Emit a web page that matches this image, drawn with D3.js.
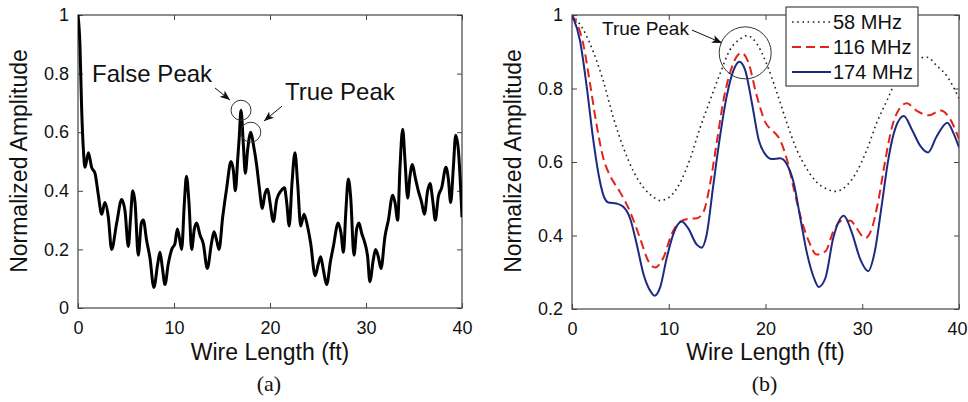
<!DOCTYPE html>
<html>
<head>
<meta charset="utf-8">
<script src="https://cdn.jsdelivr.net/npm/d3@7"></script>
<style>
  body { margin: 0; background: #fff; }
  svg { display: block; font-family: "Liberation Sans", Arial, sans-serif; }
</style>
</head>
<body>
<div id="chart"></div>
<script>

// ---- data ----
const xTicks = [0, 10, 20, 30, 40]
const yTicksA = [0, 0.2, 0.4, 0.6, 0.8, 1]
const yTicksB = [0.2, 0.4, 0.6, 0.8, 1]

// (a) single trace
const lenA = [0, 0.2, 0.38, 0.56, 0.73, 1.08, 1.42, 1.77, 2.1, 2.47, 2.8, 3.16, 3.5, 4.03, 4.55, 4.9, 5.24, 5.48, 5.7, 5.94,
  6.28, 6.6, 6.8, 7.15, 7.5, 7.9, 8.3, 8.54, 8.78, 9.06, 9.4, 9.76, 10.1, 10.35, 10.56, 10.8, 11.08, 11.3, 11.56, 11.84,
  12.12, 12.36, 12.7, 13.05, 13.47, 13.9, 14.17, 14.45, 14.69, 15.07, 15.49, 15.94, 16.18, 16.39, 16.63, 16.8, 16.98,
  17.22, 17.43, 17.67, 18.0, 18.26, 18.6, 18.89, 19.2, 19.48, 19.76, 20.0, 20.35, 20.7, 21.15, 21.5, 21.74, 22.0, 22.29,
  22.6, 22.88, 23.2, 23.54, 23.9, 24.24, 24.7, 25.03, 25.28, 25.56, 25.9, 26.3, 26.6, 27.1, 27.4, 27.65, 27.9, 28.16,
  28.4, 28.75, 29.03, 29.27, 29.55, 29.9, 30.17, 30.4, 30.76, 31.0, 31.28, 31.56, 31.98, 32.33, 32.78, 33.02, 33.3,
  33.54, 33.82, 34.06, 34.34, 34.58, 34.83, 35.1, 35.45, 35.8, 36.08, 36.42, 36.67, 36.94, 37.22, 37.53, 37.88, 38.33,
  38.58, 38.82, 39.1, 39.34, 39.62, 40]
const ampA = [1.0, 0.9, 0.68, 0.54, 0.48, 0.53, 0.48, 0.46, 0.39, 0.32, 0.36, 0.31, 0.2, 0.29, 0.37, 0.33, 0.21, 0.31, 0.4, 0.36,
  0.18, 0.29, 0.3, 0.23, 0.17, 0.07, 0.15, 0.19, 0.14, 0.08, 0.15, 0.2, 0.22, 0.27, 0.24, 0.2, 0.36, 0.45, 0.36, 0.2,
  0.27, 0.29, 0.25, 0.22, 0.135, 0.22, 0.26, 0.23, 0.2, 0.31, 0.41, 0.5, 0.47, 0.4, 0.505, 0.585, 0.675,
  0.56, 0.46, 0.54, 0.6, 0.56, 0.49, 0.41, 0.34, 0.39, 0.405, 0.36, 0.295, 0.37, 0.4, 0.41, 0.36, 0.28, 0.425,
  0.53, 0.425, 0.28, 0.32, 0.28, 0.22, 0.11, 0.15, 0.175, 0.13, 0.08, 0.16, 0.21, 0.29, 0.255, 0.19, 0.33, 0.44,
  0.38, 0.18, 0.27, 0.29, 0.255, 0.22, 0.175, 0.09, 0.165, 0.2, 0.175, 0.135, 0.245, 0.3, 0.385, 0.36, 0.3,
  0.48, 0.61, 0.505, 0.375, 0.45, 0.49, 0.45, 0.4, 0.36, 0.32, 0.4, 0.425, 0.37, 0.3, 0.38, 0.41, 0.48,
  0.44, 0.36, 0.48, 0.59, 0.54, 0.31]

// (b) three frequencies
const len58 = [0, 1.17, 2.2, 3.24, 4.28, 5.3, 6.34, 7.4, 8.4, 9.1, 10.1, 11.2, 12.2, 13.2, 14.3, 15.3, 16.3, 17.4, 18.1, 19.1,
  20.1, 21.2, 22.2, 23.2, 24.3, 25.3, 26.3, 27.2, 28.4, 29.4, 30.5, 31.5, 32.6, 33.6, 34.6, 35.7, 36.7, 37.7, 38.8, 40]
const amp58 = [1.0, 0.96, 0.9, 0.82, 0.72, 0.64, 0.575, 0.53, 0.505, 0.495, 0.505, 0.545, 0.608, 0.69, 0.77, 0.84, 0.904, 0.935, 0.944, 0.922,
  0.868, 0.787, 0.707, 0.635, 0.58, 0.545, 0.527, 0.52, 0.536, 0.572, 0.635, 0.707, 0.77, 0.828, 0.865, 0.882, 0.885, 0.862, 0.832, 0.773]

const len116 = [0, 1.17, 1.86, 2.55, 3.24, 3.93, 4.97, 6.0, 7.03, 7.9, 8.6, 9.45, 10.3, 11.2, 12.0, 12.9, 13.6, 14.3, 15.0, 15.6,
  16.3, 17.0, 17.55, 18.2, 19.1, 20.0, 20.8, 21.5, 22.2, 22.9, 23.6, 24.45, 25.3, 26.2, 27.0, 27.9, 28.8, 29.4, 30.3, 31.0,
  31.7, 32.4, 33.1, 33.9, 34.6, 35.6, 36.9, 38.1, 39.1, 40]
const amp116 = [1.0, 0.92, 0.814, 0.7, 0.61, 0.563, 0.518, 0.465, 0.393, 0.33, 0.313, 0.34, 0.404, 0.438, 0.445, 0.447, 0.465, 0.545, 0.66, 0.76,
  0.84, 0.886, 0.897, 0.873, 0.78, 0.707, 0.684, 0.66, 0.608, 0.53, 0.454, 0.386, 0.348, 0.357, 0.41, 0.44, 0.44, 0.42, 0.393, 0.42,
  0.5, 0.608, 0.698, 0.747, 0.76, 0.74, 0.727, 0.74, 0.716, 0.662]

const len174 = [0, 0.83, 1.52, 2.2, 2.72, 3.24, 3.76, 4.6, 5.3, 6.0, 6.7, 7.4, 8.07, 8.52, 9.1, 9.8, 10.5, 11.34, 12.0, 12.9,
  13.4, 13.9, 14.6, 15.3, 16.0, 16.7, 17.3, 17.9, 18.6, 19.3, 20.0, 20.65, 21.5, 22.2, 22.9, 23.6, 24.3, 25.0, 25.5, 26.2,
  27.0, 28.1, 28.9, 29.8, 30.6, 31.3, 32.0, 32.7, 33.4, 34.3, 35.1, 36.0, 36.8, 37.7, 38.8, 39.4, 40]
const amp174 = [1.0, 0.93, 0.805, 0.66, 0.57, 0.51, 0.49, 0.487, 0.478, 0.447, 0.375, 0.294, 0.25, 0.236, 0.258, 0.34, 0.406, 0.438, 0.42, 0.375,
  0.367, 0.4, 0.536, 0.67, 0.78, 0.85, 0.873, 0.85, 0.76, 0.66, 0.62, 0.608, 0.61, 0.594, 0.545, 0.447, 0.35, 0.285, 0.26, 0.285,
  0.393, 0.454, 0.41, 0.335, 0.303, 0.357, 0.48, 0.608, 0.69, 0.725, 0.69, 0.644, 0.626, 0.67, 0.707, 0.68, 0.64]

const seriesNames = ["58 MHz", "116 MHz", "174 MHz"]

// ---- svg ----
const W = 968, H = 402
const svg = d3.select("#chart").append("svg")
    .attr("width", W)
    .attr("height", H)

svg.append("defs").append("marker")
    .attr("id", "arrow")
    .attr("markerUnits", "userSpaceOnUse")
    .attr("markerWidth", 11)
    .attr("markerHeight", 8)
    .attr("refX", 10)
    .attr("refY", 4)
    .attr("orient", "auto")
    .append("path")
    .attr("d", "M0,0L10,4L0,8L2.5,4Z")
    .attr("fill", "#111")

const zip = (xs, ys) => xs.map((x, i) => [x, ys[i]])

function panel(opts) {
    const {left, right, top, bottom, yDomain, yTicks, id} = opts

    const x = d3.scaleLinear().domain([0, 40]).range([left, right])
    const y = d3.scaleLinear().domain(yDomain).range([bottom, top])

    const g = svg.append("g")

    g.append("clipPath").attr("id", "clip-" + id)
        .append("rect")
        .attr("x", left).attr("y", top)
        .attr("width", right - left).attr("height", bottom - top)

    // inward ticks on all four sides, labels only bottom/left
    const styleAxis = sel => {
        sel.select(".domain").remove()
        sel.selectAll(".tick line").attr("stroke", "#444")
        sel.selectAll(".tick text")
            .attr("fill", "#111")
            .style("font-size", "18px")
            .style("font-family", "'Liberation Sans', Arial, sans-serif")
    }

    const xAxis = g.append("g")
        .attr("transform", `translate(0,${bottom})`)
        .call(d3.axisBottom(x).tickValues(xTicks).tickSize(-5).tickPadding(13).tickFormat(d3.format("d")))
        .call(styleAxis)

    // keep the last label inside the page edge
    if (right + 10 > W) {
        xAxis.selectAll(".tick text")
            .filter(d => d === 40)
            .attr("text-anchor", "end")
            .attr("x", W - right - 1)
    }

    g.append("g")
        .attr("transform", `translate(0,${top})`)
        .call(d3.axisTop(x).tickValues(xTicks).tickSize(-5).tickFormat(""))
        .call(styleAxis)

    g.append("g")
        .attr("transform", `translate(${left},0)`)
        .call(d3.axisLeft(y).tickValues(yTicks).tickSize(-5).tickPadding(9).tickFormat(d => d3.format("")(+d.toFixed(1))))
        .call(styleAxis)

    g.append("g")
        .attr("transform", `translate(${right},0)`)
        .call(d3.axisRight(y).tickValues(yTicks).tickSize(-5).tickFormat(""))
        .call(styleAxis)

    g.append("rect")
        .attr("x", left).attr("y", top)
        .attr("width", right - left).attr("height", bottom - top)
        .attr("fill", "none")
        .attr("stroke", "#444")
        .attr("stroke-width", 1.2)

    // axis titles
    const cx = (left + right) / 2
    g.append("text")
        .attr("x", cx).attr("y", 360)
        .attr("text-anchor", "middle")
        .style("font-size", "23px")
        .attr("fill", "#111")
        .text("Wire Length (ft)")

    g.append("text")
        .attr("transform", `translate(${left - 51},161) rotate(-90)`)
        .attr("text-anchor", "middle")
        .style("font-size", "23px")
        .attr("fill", "#111")
        .text("Normalized Amplitude")

    g.append("text")
        .attr("x", cx - 1).attr("y", 391)
        .attr("text-anchor", "middle")
        .style("font-size", "22px")
        .style("font-family", "'Liberation Serif', 'Times New Roman', serif")
        .attr("fill", "#111")
        .text(opts.caption)

    return {g, x, y, clip: `url(#clip-${id})`}
}

// ---- panel (a) ----
const A = panel({left: 78, right: 462, top: 15, bottom: 308, yDomain: [0, 1], yTicks: yTicksA, id: "a", caption: "(a)"})

const lineA = d3.line().x(d => A.x(d[0])).y(d => A.y(d[1])).curve(d3.curveMonotoneX)

A.g.append("path")
    .datum(zip(lenA, ampA))
    .attr("clip-path", A.clip)
    .attr("d", lineA)
    .attr("fill", "none")
    .attr("stroke", "#000")
    .attr("stroke-width", 3)
    .attr("stroke-linejoin", "round")

// peak circles and labels
const circlesA = [[16.98, 0.675], [18.0, 0.6]]
A.g.selectAll(".peak")
    .data(circlesA)
    .join("circle")
    .attr("cx", d => A.x(d[0]))
    .attr("cy", d => A.y(d[1]))
    .attr("r", 10)
    .attr("fill", "none")
    .attr("stroke", "#333")
    .attr("stroke-width", 1)

const labelsA = [
    {text: "False Peak", tx: 1.46, ty: 0.771, from: [14.27, 0.751], to: [15.83, 0.71]},
    {text: "True Peak", tx: 21.56, ty: 0.71, from: [21.25, 0.689], to: [19.375, 0.638]}
]
labelsA.forEach(l => {
    A.g.append("text")
        .attr("x", A.x(l.tx)).attr("y", A.y(l.ty))
        .style("font-size", "24px")
        .attr("fill", "#111")
        .text(l.text)
    A.g.append("line")
        .attr("x1", A.x(l.from[0])).attr("y1", A.y(l.from[1]))
        .attr("x2", A.x(l.to[0])).attr("y2", A.y(l.to[1]))
        .attr("stroke", "#111")
        .attr("stroke-width", 1)
        .attr("marker-end", "url(#arrow)")
})

// ---- panel (b) ----
const B = panel({left: 572, right: 959, top: 15, bottom: 309, yDomain: [0.2, 1], yTicks: yTicksB, id: "b", caption: "(b)"})

const lineB = d3.line().x(d => B.x(d[0])).y(d => B.y(d[1])).curve(d3.curveMonotoneX)

const series = [
    {name: seriesNames[0], data: zip(len58, amp58), color: "#222", width: 1.6, dash: "1.6,3.6"},
    {name: seriesNames[1], data: zip(len116, amp116), color: "#e3231b", width: 2, dash: "9,5"},
    {name: seriesNames[2], data: zip(len174, amp174), color: "#1c2a80", width: 2, dash: null}
]

B.g.selectAll(".series")
    .data(series)
    .join("path")
    .attr("clip-path", B.clip)
    .attr("d", d => lineB(d.data))
    .attr("fill", "none")
    .attr("stroke", d => d.color)
    .attr("stroke-width", d => d.width)
    .attr("stroke-dasharray", d => d.dash)

// true peak annotation
B.g.append("circle")
    .attr("cx", B.x(17.9)).attr("cy", B.y(0.897))
    .attr("r", 26)
    .attr("fill", "none")
    .attr("stroke", "#333")
    .attr("stroke-width", 1)

B.g.append("text")
    .attr("x", B.x(3.1)).attr("y", B.y(0.946))
    .style("font-size", "19px")
    .attr("fill", "#111")
    .text("True Peak")

B.g.append("line")
    .attr("x1", B.x(12.4)).attr("y1", B.y(0.959))
    .attr("x2", B.x(15.5)).attr("y2", B.y(0.924))
    .attr("stroke", "#111")
    .attr("stroke-width", 1)
    .attr("marker-end", "url(#arrow)")

// legend
const legend = B.g.append("g").attr("transform", "translate(786,7)")
legend.append("rect")
    .attr("width", 132).attr("height", 79)
    .attr("fill", "#fff")
    .attr("stroke", "#444")
    .attr("stroke-width", 1.2)

const rows = legend.selectAll(".row")
    .data(series)
    .join("g")
    .attr("transform", (d, i) => `translate(0,${15 + i * 25})`)

rows.append("line")
    .attr("x1", 6).attr("x2", 45)
    .attr("stroke", d => d.color)
    .attr("stroke-width", d => d.width)
    .attr("stroke-dasharray", d => d.dash)

rows.append("text")
    .attr("x", 47).attr("y", 7)
    .style("font-size", "20px")
    .attr("fill", "#111")
    .text(d => d.name)

</script>
</body>
</html>
